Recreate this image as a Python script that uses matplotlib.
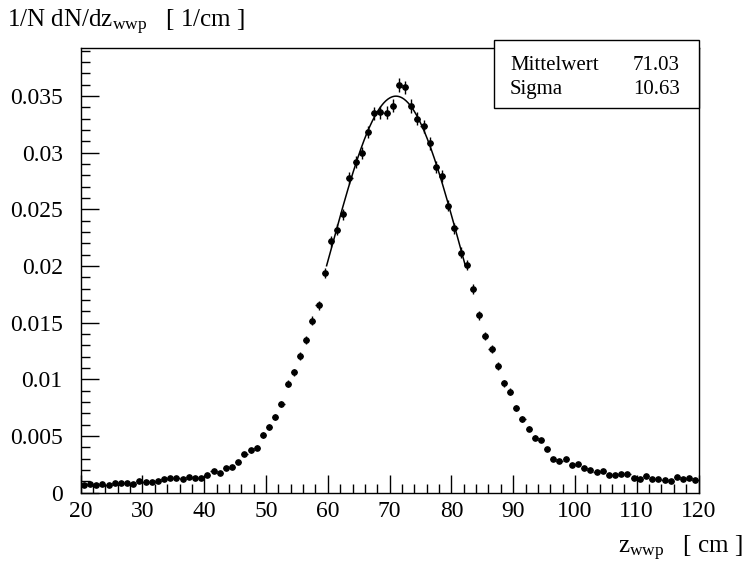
import numpy as np
import matplotlib
matplotlib.use("Agg")
import matplotlib.pyplot as plt
from matplotlib.patches import Rectangle
from matplotlib.ticker import MultipleLocator

plt.rcParams["font.family"] = ["Liberation Serif", "DejaVu Serif"]
plt.rcParams["mathtext.fontset"] = "custom"
plt.rcParams["mathtext.rm"] = "Liberation Serif"
plt.rcParams["mathtext.it"] = "Liberation Serif:italic"

# histogram: bin centres (1 cm bins from 20 to 120) and normalised contents
bin_lo = 20
bin_hi = 120
values = [
    0.00068, 0.00074, 0.00065, 0.00080, 0.00065, 0.00086, 0.00086, 0.00088, 0.00080, 0.00106,
    0.00097, 0.00097, 0.00103, 0.00121, 0.00130, 0.00127, 0.00121, 0.00141, 0.00132, 0.00130,
    0.00156, 0.00188, 0.00174, 0.00215, 0.00224, 0.00267, 0.00339, 0.00374, 0.00397, 0.00509,
    0.00580, 0.00665, 0.00782, 0.00960, 0.01063, 0.01207, 0.01345, 0.01518, 0.01654, 0.01940,
    0.02218, 0.02320, 0.02457, 0.02778, 0.02916, 0.02998, 0.03184, 0.03349, 0.03357, 0.03354,
    0.03416, 0.03596, 0.03578, 0.03413, 0.03301, 0.03234, 0.03084, 0.02875, 0.02793, 0.02533,
    0.02334, 0.02120, 0.02008, 0.01800, 0.01566, 0.01383, 0.01268, 0.01118, 0.00968, 0.00891,
    0.00750, 0.00650, 0.00565, 0.00485, 0.00465, 0.00388, 0.00295, 0.00284, 0.00300, 0.00243,
    0.00250, 0.00215, 0.00198, 0.00186, 0.00189, 0.00156, 0.00153, 0.00165, 0.00165, 0.00133,
    0.00118, 0.00150, 0.00121, 0.00121, 0.00115, 0.00103, 0.00136, 0.00118, 0.00130, 0.00109,
]
n_entries = 100000  # rough estimate, sets the Poisson error bars

# gaussian fit result
fit_amp = 0.0350
fit_mean = 71.03
fit_sigma = 10.63
fit_range = (59.8, 82.2)

stat_labels = ["Mittelwert", "Sigma"]
stat_values = ["71.03", "10.63"]

centers = np.arange(bin_lo, bin_hi) + 0.5
vals = np.array(values)
errs = np.sqrt(vals / n_entries)

fig = plt.figure(figsize=(7.44, 5.65), dpi=100)
ax = fig.add_axes([80.7 / 744, 1 - 492.7 / 565, 617.8 / 744, 444.7 / 565])

ax.errorbar(centers, vals, xerr=0.5, yerr=errs, fmt="o", color="black",
            ms=3.8, elinewidth=1.0, capsize=0)

zf = np.linspace(fit_range[0], fit_range[1], 200)
ax.plot(zf, fit_amp * np.exp(-0.5 * ((zf - fit_mean) / fit_sigma) ** 2),
        color="black", lw=1.1)

ax.set_xlim(bin_lo, bin_hi)
ax.set_ylim(0, 0.03925)
ax.xaxis.set_major_locator(MultipleLocator(10))
ax.xaxis.set_minor_locator(MultipleLocator(2))
ax.yaxis.set_minor_locator(MultipleLocator(0.001))
ax.set_yticks(np.arange(0, 0.0351, 0.005))
ax.set_yticklabels(["0", "0.005", "0.01", "0.015", "0.02", "0.025", "0.03", "0.035"])
ax.tick_params(which="both", direction="in", top=False, right=False,
               labelsize=17, width=1)
ax.tick_params(which="major", length=13)
ax.tick_params(which="minor", length=6.5)
ax.tick_params(axis="y", pad=13)
ax.tick_params(axis="x", pad=6)
for s in ax.spines.values():
    s.set_linewidth(1.0)

fig.text(7 / 744, 1 - 27 / 565, r"1/N dN/dz$_{\mathrm{wwp}}$   [ 1/cm ]",
         fontsize=18, va="baseline", ha="left")
fig.text(743 / 744, 1 - 553 / 565, r"z$_{\mathrm{wwp}}$   [ cm ]",
         fontsize=18, va="baseline", ha="right")

box = Rectangle((494 / 744, 1 - 108 / 565), 205 / 744, 68 / 565,
                transform=fig.transFigure, facecolor="white",
                edgecolor="black", lw=1.0)
fig.patches.append(box)
for i, (lab, val) in enumerate(zip(stat_labels, stat_values)):
    yb = 1 - (70 + 24 * i) / 565
    fig.text(510 / 744, yb, lab, fontsize=15, va="baseline", ha="left")
    fig.text(680 / 744, yb, val, fontsize=15, va="baseline", ha="right")

fig.savefig("out.png", dpi=100)
